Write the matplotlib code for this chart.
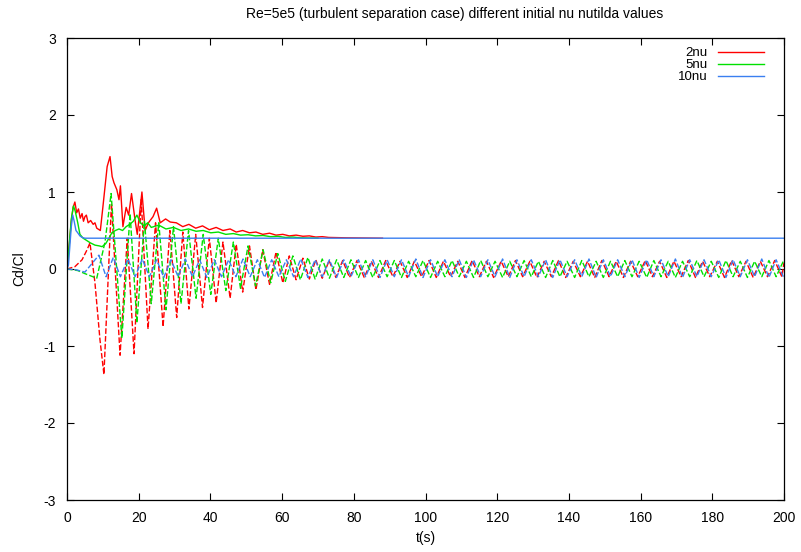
import numpy as np
import matplotlib
matplotlib.use("Agg")
import matplotlib.pyplot as plt

# ---- data (time in s) ----
# 2nu : Cd (solid) and Cl (dashed)
red_cd_t = [0, 0.6, 1.2, 1.7, 2.2, 2.7, 3.2, 3.7, 4.2, 4.6, 5.0, 5.4, 5.9, 6.6, 7.3, 7.8, 8.3, 9.3,
            10.0, 11.2, 12.0, 12.6, 13.1, 13.9, 14.5, 14.9, 15.6, 16.5, 17.2, 18.0,
            19.0, 19.6, 20.9, 21.8, 22.7, 24.0, 25.0, 26.0, 27.5, 28.8, 30.5, 32.3,
            34.0, 35.9, 37.8, 39.7, 41.6, 43.5, 45.5, 47.2, 49.0, 50.9, 52.7, 54.6,
            56.5, 58.3, 60.2, 62.0, 63.9, 65.8, 67.6, 69.4, 71.2, 73.0, 78.0, 88.0]
red_cd_v = [0, 0.3, 0.62, 0.8, 0.87, 0.73, 0.78, 0.66, 0.72, 0.62, 0.68, 0.7, 0.6, 0.63, 0.58, 0.6, 0.53, 0.5,
            0.8, 1.33, 1.46, 1.2, 1.12, 1.03, 0.9, 1.08, 0.55, 0.8, 0.7, 0.98,
            0.63, 0.45, 1.0, 0.5, 0.6, 0.68, 0.79, 0.6, 0.65, 0.61, 0.6, 0.55,
            0.58, 0.53, 0.56, 0.51, 0.54, 0.5, 0.52, 0.48, 0.5, 0.47, 0.48, 0.45,
            0.465, 0.44, 0.45, 0.43, 0.44, 0.425, 0.43, 0.415, 0.42, 0.41, 0.405, 0.4]

red_cl_t = [0, 2.2, 4.2, 5.6, 6.4, 7.8, 9.2, 10.3, 12.4, 14.8, 16.8, 18.7, 20.7, 22.6,
            24.7, 26.8, 28.7, 30.6, 32.3, 34.0, 35.9, 37.8, 39.7, 41.6, 43.5, 45.5,
            47.2, 49.0, 50.9, 52.7, 54.6, 56.5, 58.3, 60.2, 62.0, 63.9, 65.8, 67.6,
            69.4, 71.2, 73.1, 75.0, 76.9, 78.8, 80.9, 82.9, 84.9, 86.9, 88.9, 90.9,
            92.9, 94.9, 96.9, 98.9, 101.0, 103.0, 105.0, 107.0, 109.0, 111.0, 113.0,
            115.0, 117.0, 119.0, 121.1, 123.1, 125.1, 127.1, 129.1, 131.1, 133.1,
            135.1, 137.1, 139.1, 141.2, 143.2, 145.2, 147.2, 149.2, 151.2, 153.2,
            155.2, 157.2, 159.2, 161.3, 163.3, 165.3, 167.3, 169.3, 171.3, 173.3,
            175.3, 177.3, 179.3, 181.4, 183.4, 185.4, 187.4, 189.4, 191.4, 193.4,
            195.4, 197.4, 199.4, 200.0]
red_cl_v = [0, 0.03, 0.12, 0.25, 0.34, -0.18, -0.92, -1.37, 0.85, -1.12, 0.4, -1.1, 0.9, -0.78,
            0.6, -0.75, 0.5, -0.63, 0.48, -0.52, 0.45, -0.5, 0.4, -0.44, 0.35, -0.38,
            0.32, -0.3, 0.3, -0.27, 0.25, -0.2, 0.22, -0.18, 0.17, -0.14, 0.14, -0.13,
            0.12, -0.12, 0.11, -0.11, 0.11, -0.11, 0.11, -0.11, 0.1, -0.11, 0.11, -0.1,
            0.1, -0.11, 0.1, -0.1, 0.11, -0.11, 0.1, -0.1, 0.1, -0.11, 0.11,
            -0.1, 0.1, -0.11, 0.1, -0.1, 0.11, -0.1, 0.1, -0.11, 0.1,
            -0.1, 0.11, -0.11, 0.1, -0.1, 0.1, -0.11, 0.11, -0.1, 0.1,
            -0.11, 0.1, -0.1, 0.11, -0.1, 0.1, -0.11, 0.1, -0.1, 0.11,
            -0.11, 0.1, -0.1, 0.1, -0.11, 0.11, -0.1, 0.1, -0.11, 0.1,
            -0.1, 0.11, -0.1, 0.08]

# 5nu
green_cd_t = [0, 0.6, 1.2, 1.8, 2.3, 3.0, 3.6, 4.5, 5.5, 6.5, 7.8, 9.0, 9.8, 10.8, 11.7,
              12.5, 13.5, 14.5, 15.5, 16.5, 17.5, 18.5, 19.5, 20.5, 21.5, 22.5, 23.5,
              25.6, 27.6, 29.7, 31.8, 33.9, 36.0, 38.0, 40.1, 42.2, 44.3, 46.4, 48.4,
              50.5, 52.6, 54.7, 56.8, 58.8, 60.9, 63.0, 65.0, 70.0]
green_cd_v = [0, 0.3, 0.65, 0.82, 0.75, 0.6, 0.45, 0.4, 0.37, 0.34, 0.31, 0.3, 0.29, 0.33, 0.4,
              0.47, 0.5, 0.52, 0.5, 0.55, 0.58, 0.62, 0.7, 0.6, 0.56, 0.6, 0.54,
              0.57, 0.52, 0.54, 0.5, 0.52, 0.49, 0.5, 0.47, 0.48, 0.45, 0.46, 0.44,
              0.445, 0.43, 0.435, 0.42, 0.425, 0.41, 0.415, 0.405, 0.4]

green_cl_t = [0, 3.0, 5.0, 8.3, 10.6, 12.3, 15.3, 17.6, 19.5, 21.6, 23.5, 25.6, 27.6,
              29.7, 31.8, 33.9, 36.0, 38.0, 40.1, 42.2, 44.3, 46.4, 48.4, 50.5, 52.6,
              54.7, 56.8, 58.8, 60.9, 63.0, 65.1, 67.2, 69.2, 71.2, 73.2, 75.2, 77.2,
              79.2, 81.3, 83.3, 85.3, 87.3, 89.3, 91.3, 93.3, 95.3, 97.3, 99.3, 101.4,
              103.4, 105.4, 107.4, 109.4, 111.4, 113.4, 115.4, 117.4, 119.4, 121.5,
              123.5, 125.5, 127.5, 129.5, 131.5, 133.5, 135.5, 137.5, 139.5, 141.6,
              143.6, 145.6, 147.6, 149.6, 151.6, 153.6, 155.6, 157.6, 159.6, 161.7,
              163.7, 165.7, 167.7, 169.7, 171.7, 173.7, 175.7, 177.7, 179.7, 181.8,
              183.8, 185.8, 187.8, 189.8, 191.8, 193.8, 195.8, 197.8, 199.8]
green_cl_v = [0, -0.02, -0.06, -0.12, 0.35, 0.98, -0.9, 0.72, -0.7, 0.62, -0.45, 0.6, -0.53,
              0.55, -0.45, 0.5, -0.38, 0.45, -0.33, 0.4, -0.28, 0.35, -0.25, 0.3, -0.22,
              0.25, -0.18, 0.2, -0.16, 0.17, -0.14, 0.15, -0.13, 0.13, -0.12, 0.12, -0.11,
              0.12, -0.11, 0.11, -0.11, 0.11, -0.1, 0.11, -0.11, 0.1, -0.1, 0.11, -0.11,
              0.1, -0.1, 0.11, -0.1, 0.1, -0.11, 0.11, -0.1, 0.1, -0.11,
              0.1, -0.1, 0.11, -0.1, 0.1, -0.11, 0.11, -0.1, 0.1, -0.11,
              0.11, -0.1, 0.1, -0.11, 0.1, -0.1, 0.11, -0.1, 0.1, -0.11,
              0.11, -0.1, 0.1, -0.11, 0.1, -0.1, 0.11, -0.1, 0.1, -0.11,
              0.11, -0.1, 0.1, -0.11, 0.1, -0.1, 0.11, -0.1, 0.1]

# 10nu
blue_cd_t = [0, 0.4, 0.8, 1.2, 1.6, 2.0, 2.5, 3.0, 3.6, 4.2, 5.0, 200.0]
blue_cd_v = [0, 0.05, 0.3, 0.55, 0.7, 0.62, 0.5, 0.47, 0.43, 0.41, 0.4, 0.4]

blue_cl_t = [0, 2.5, 5.0, 8.9, 10.9, 12.9, 14.9, 17.0, 19.0, 21.0, 23.0, 25.0, 27.0,
             29.0, 31.0, 33.0, 35.0, 37.0, 39.0, 41.1, 43.1, 45.1, 47.1, 49.1, 51.1,
             53.1, 55.1, 57.1, 59.1, 61.2, 63.2, 65.2, 67.2, 69.2, 71.2, 73.2, 75.2,
             77.2, 79.2, 81.3, 83.3, 85.3, 87.3, 89.3, 91.3, 93.3, 95.3, 97.3, 99.3,
             101.4, 103.4, 105.4, 107.4, 109.4, 111.4, 113.4, 115.4, 117.4, 119.4,
             121.5, 123.5, 125.5, 127.5, 129.5, 131.5, 133.5, 135.5, 137.5, 139.5,
             141.6, 143.6, 145.6, 147.6, 149.6, 151.6, 153.6, 155.6, 157.6, 159.6,
             161.7, 163.7, 165.7, 167.7, 169.7, 171.7, 173.7, 175.7, 177.7, 179.7,
             181.8, 183.8, 185.8, 187.8, 189.8, 191.8, 193.8, 195.8, 197.8, 199.8]
blue_cl_v = [0, -0.01, -0.04, 0.18, -0.1, 0.15, -0.1, 0.13, -0.1, 0.13, -0.1, 0.12, -0.11,
             0.12, -0.1, 0.13, -0.1, 0.12, -0.11, 0.12, -0.1, 0.12, -0.1, 0.13, -0.1,
             0.12, -0.11, 0.12, -0.1, 0.12, -0.1, 0.13, -0.11, 0.12, -0.1, 0.12, -0.11,
             0.12, -0.1, 0.12, -0.1, 0.12, -0.11, 0.12, -0.1, 0.12, -0.1, 0.13, -0.11,
             0.12, -0.1, 0.12, -0.1, 0.12, -0.11, 0.12, -0.1, 0.12, -0.1,
             0.13, -0.11, 0.12, -0.1, 0.12, -0.1, 0.12, -0.11, 0.12, -0.1,
             0.12, -0.1, 0.13, -0.11, 0.12, -0.1, 0.12, -0.1, 0.12, -0.11,
             0.12, -0.1, 0.12, -0.1, 0.13, -0.11, 0.12, -0.1, 0.12, -0.1,
             0.12, -0.11, 0.12, -0.1, 0.12, -0.1, 0.13, -0.11, 0.12, -0.1]

labels = ['2nu', '5nu', '10nu']
x_ticks = list(range(0, 201, 20))
y_ticks = [-3, -2, -1, 0, 1, 2, 3]

plt.rcParams['font.family'] = ['Liberation Sans', 'DejaVu Sans']
plt.rcParams['axes.unicode_minus'] = False
fs = 10

fig = plt.figure(figsize=(8.01, 5.52), dpi=100)
ax = fig.add_axes([67/801, 1 - 500/552, (784 - 67)/801, (500 - 38)/552])

red, green, blue = '#ff0000', '#00e000', '#3a7ff0'
dash = (4, 1.6)
lw = 1.0

ax.plot(red_cd_t, red_cd_v, color=red, lw=lw, label=labels[0])
ax.plot(red_cl_t, red_cl_v, color=red, lw=lw, dashes=dash)
ax.plot(green_cd_t, green_cd_v, color=green, lw=lw, label=labels[1])
ax.plot(green_cl_t, green_cl_v, color=green, lw=lw, dashes=dash)
ax.plot(blue_cd_t, blue_cd_v, color=blue, lw=lw, label=labels[2])
ax.plot(blue_cl_t, blue_cl_v, color=blue, lw=lw, dashes=dash)

ax.set_xlim(0, 200)
ax.set_ylim(-3, 3)
ax.set_xticks(x_ticks)
ax.set_yticks(y_ticks)
ax.tick_params(direction='in', top=True, right=True, length=5, width=0.8,
               labelsize=fs, pad=8)
for s in ax.spines.values():
    s.set_linewidth(0.9)

# gnuplot centres the title on the canvas, not on the plot box
fig.text(455/801, 1 - 14/552,
         'Re=5e5 (turbulent separation case) different initial nu nutilda values',
         fontsize=fs, ha='center', va='center')
ax.set_xlabel('t(s)', fontsize=fs, labelpad=4)
ax.set_ylabel('Cd/Cl', fontsize=fs, labelpad=12)

leg = ax.legend(loc='upper right', frameon=False, markerfirst=False, fontsize=9.5,
                handlelength=3.5, labelspacing=-0.03, borderaxespad=0.3,
                handletextpad=0.75, bbox_to_anchor=(0.985, 1.0))
for t in leg.get_texts():
    t.set_ha('right')

fig.savefig('out.png', dpi=100)
